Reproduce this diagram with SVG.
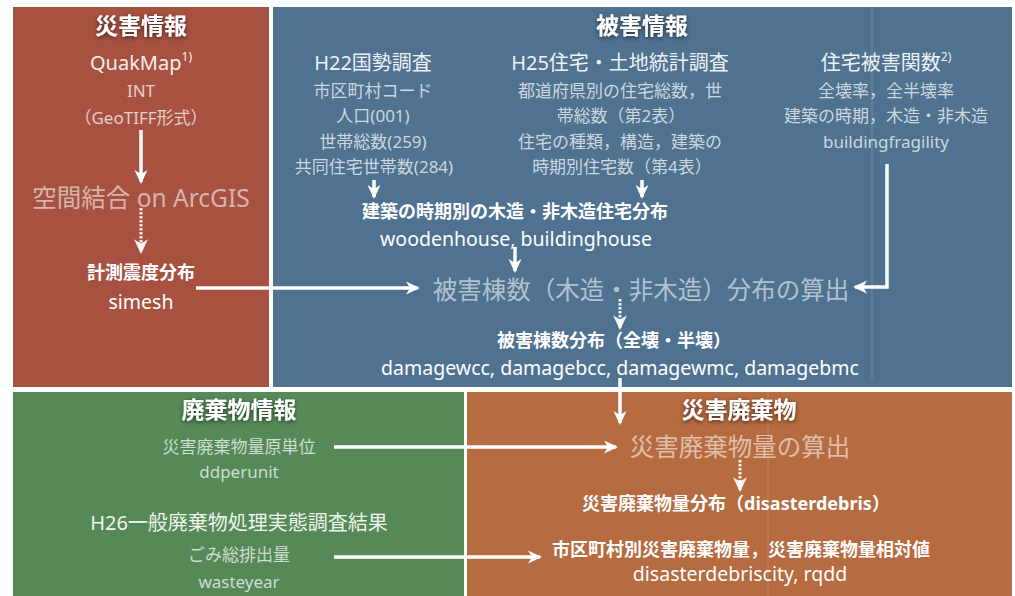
<svg xmlns="http://www.w3.org/2000/svg" width="1015" height="596" viewBox="0 0 1015 596">
<defs>
<style>
text{font-family:"Noto Sans","Noto Sans CJK JP",sans-serif;text-anchor:middle;dominant-baseline:central;fill:#fff}
.h{font-size:23px;font-weight:bold;filter:url(#sh)}
.t{font-size:20px;fill-opacity:.93}
.s{font-size:17px;fill-opacity:.72}
.big{font-size:24.5px;fill-opacity:.58}
.b{font-size:18px;font-weight:bold}
.v{font-size:19.5px}
.ln{stroke:#fff;stroke-width:3.5;fill:none}
.dl{stroke:#fff;stroke-width:3;fill:none;stroke-dasharray:2.5 1.5;stroke-opacity:.9}
.edge{stroke:#fff;stroke-opacity:.18;stroke-width:1}
</style>
<filter id="sh" x="-20%" y="-40%" width="140%" height="180%">
<feDropShadow dx="0" dy="1.5" stdDeviation="2" flood-color="#000" flood-opacity=".6"/>
</filter>
<marker id="ah" viewBox="0 0 14 14" markerWidth="14" markerHeight="14" refX="12" refY="7" orient="auto" markerUnits="userSpaceOnUse">
<path d="M0,0.5 L14,7 L0,13.5 L4,7 Z" fill="#fff"/>
</marker>
<marker id="ad" viewBox="0 0 14 14" markerWidth="15" markerHeight="15" refX="12" refY="7" orient="auto" markerUnits="userSpaceOnUse">
<path d="M0,0.5 L14,7 L0,13.5 L4,7 Z" fill="#fff" fill-opacity=".92"/>
</marker>
</defs>
<rect width="1015" height="596" fill="#fff"/>

<g id="panel-disaster">
<rect x="13" y="7" width="256" height="380" fill="#a75241"/>
<text class="h" x="141" y="25">災害情報</text>
<text class="t" x="141" y="62">QuakMap<tspan font-size="12" dy="-6">1)</tspan></text>
<text class="s" x="141" y="90">INT</text>
<text class="s" x="141" y="117">（GeoTIFF形式）</text>
<text class="big" x="141" y="197">空間結合 on ArcGIS</text>
<text class="b" x="141" y="272">計測震度分布</text>
<text class="v" x="141" y="301" font-size="21">simesh</text>
</g>

<g id="panel-damage">
<rect x="273" y="7" width="739" height="380" fill="#4f7291"/>
<line class="edge" x1="872" y1="7" x2="872" y2="380"/>
<text class="h" x="642" y="25">被害情報</text>
<g id="h22">
<text class="t" x="373" y="62">H22国勢調査</text>
<text class="s" x="373" y="90">市区町村コード</text>
<text class="s" x="373" y="115">人口(001)</text>
<text class="s" x="373" y="141">世帯総数(259)</text>
<text class="s" x="374" y="166">共同住宅世帯数(284)</text>
</g>
<g id="h25">
<text class="t" x="620" y="62">H25住宅・土地統計調査</text>
<text class="s" x="620" y="90">都道府県別の住宅総数，世</text>
<text class="s" x="621" y="115">帯総数（第2表）</text>
<text class="s" x="620" y="141">住宅の種類，構造，建築の</text>
<text class="s" x="622" y="166">時期別住宅数（第4表）</text>
</g>
<g id="fragility">
<text class="t" x="886" y="62">住宅被害関数<tspan font-size="12" dy="-6">2)</tspan></text>
<text class="s" x="886" y="90">全壊率，全半壊率</text>
<text class="s" x="886" y="115">建築の時期，木造・非木造</text>
<text class="s" x="886" y="141">buildingfragility</text>
</g>
<g id="housedist">
<text class="b" x="515" y="211">建築の時期別の木造・非木造住宅分布</text>
<text class="v" x="516" y="238">woodenhouse, buildinghouse</text>
</g>
<text class="big" x="641" y="289">被害棟数（木造・非木造）分布の算出</text>
<g id="damagedist">
<text class="b" x="614" y="340" font-size="17.5">被害棟数分布（全壊・半壊）</text>
<text class="v" x="620" y="367">damagewcc, damagebcc, damagewmc, damagebmc</text>
</g>
</g>

<g id="panel-waste">
<rect x="13" y="392" width="451" height="204" fill="#558a58"/>
<text class="h" x="239" y="409">廃棄物情報</text>
<text class="s" x="239" y="446">災害廃棄物量原単位</text>
<text class="s" x="239" y="471">ddperunit</text>
<text class="t" x="239" y="522">H26一般廃棄物処理実態調査結果</text>
<text class="s" x="239" y="554">ごみ総排出量</text>
<text class="s" x="239" y="581">wasteyear</text>
</g>

<g id="panel-debris">
<rect x="467" y="392" width="545" height="204" fill="#b66b40"/>
<line class="edge" x1="768" y1="392" x2="768" y2="596"/>
<text class="h" x="739" y="409">災害廃棄物</text>
<text class="big" x="740" y="446">災害廃棄物量の算出</text>
<text class="b" x="736" y="503">災害廃棄物量分布（disasterdebris）</text>
<text class="b" x="741" y="549">市区町村別災害廃棄物量，災害廃棄物量相対値</text>
<text class="v" x="740" y="573">disasterdebriscity, rqdd</text>
</g>

<g id="connectors">
<line class="ln" x1="141" y1="130" x2="141" y2="182" marker-end="url(#ah)"/>
<line class="dl" x1="141" y1="208" x2="141" y2="252" marker-end="url(#ad)"/>
<line class="ln" x1="196" y1="288" x2="418" y2="288" marker-end="url(#ah)"/>
<line class="ln" x1="374" y1="180" x2="374" y2="197" marker-end="url(#ah)"/>
<line class="ln" x1="642" y1="180" x2="642" y2="197" marker-end="url(#ah)"/>
<line class="ln" x1="515" y1="247" x2="515" y2="271" marker-end="url(#ah)"/>
<polyline class="ln" points="887,164 887,287 855,287" marker-end="url(#ah)"/>
<line class="dl" x1="620" y1="299" x2="620" y2="328" marker-end="url(#ad)"/>
<line class="ln" x1="620" y1="378" x2="620" y2="423" marker-end="url(#ah)"/>
<line class="ln" x1="334" y1="447" x2="616" y2="447" marker-end="url(#ah)"/>
<line class="ln" x1="334" y1="557" x2="540" y2="557" marker-end="url(#ah)"/>
<line class="dl" x1="740" y1="460" x2="740" y2="490" marker-end="url(#ad)"/>
</g>
</svg>
